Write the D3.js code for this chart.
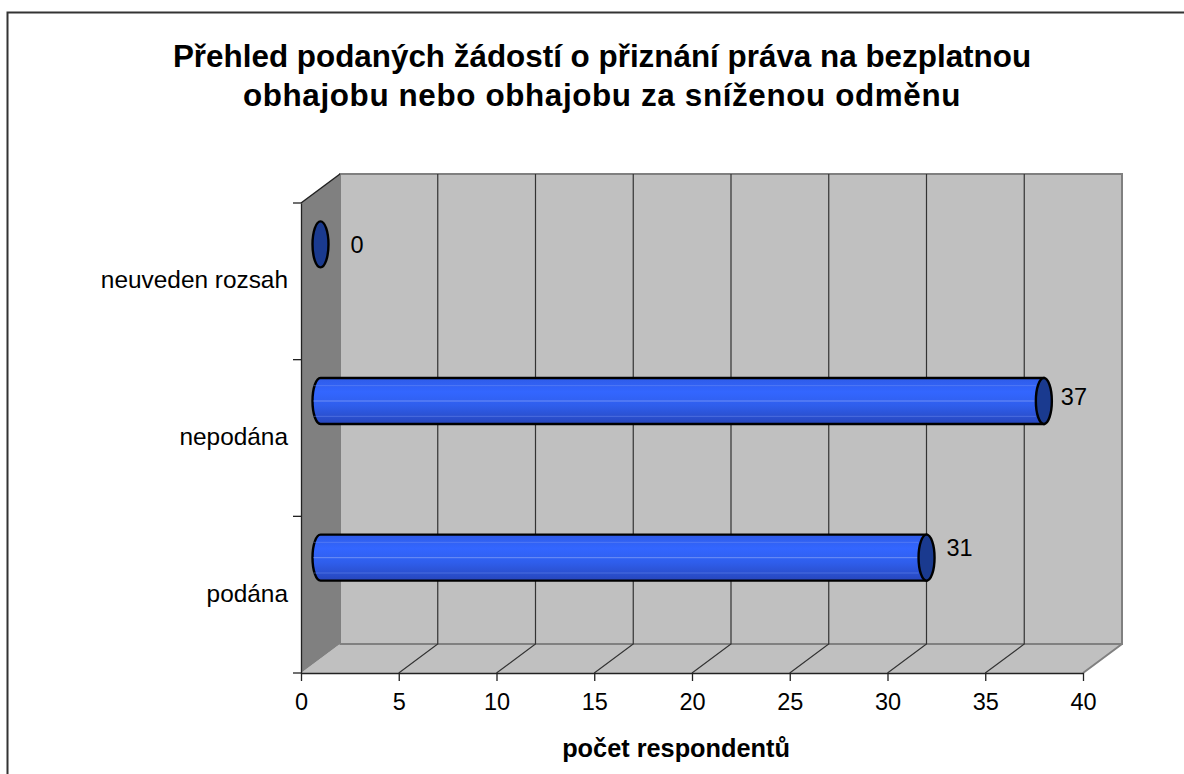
<!DOCTYPE html>
<html>
<head>
<meta charset="utf-8">
<script src="https://cdn.jsdelivr.net/npm/d3@7"></script>
<style>
    html, body { margin: 0; padding: 0; background: #fff; overflow: hidden; }
    text { font-family: "Liberation Sans", Arial, sans-serif; fill: #000; }
</style>
</head>
<body>
<div id="chart"></div>
<script>
var categories = ["podána", "nepodána", "neuveden rozsah"];
var values = [31, 37, 0];
var xTicks = [0, 5, 10, 15, 20, 25, 30, 35, 40];
var titleLines = ["Přehled podaných žádostí o přiznání práva na bezplatnou", "obhajobu nebo obhajobu za sníženou odměnu"];
var xTitle = "počet respondentů";

var width = 1184;
var height = 774;

var plot = { left: 301, right: 1083, top: 203, bottom: 673 };
var depth = { x: 39, y: -29 };

var svg = d3.select("#chart")
    .append("svg")
    .attr("width", width)
    .attr("height", height);

// chart frame, the right and bottom edges are cropped in the original
svg.append("path")
    .attr("d", "M7.5,774 L7.5,12.5 L1184,12.5")
    .attr("fill", "none")
    .attr("stroke", "#333")
    .attr("stroke-width", 2);

// the second title line is set a little wider in the original
var titleSpacing = [0, 0.63];
var title = svg.append("text")
    .attr("text-anchor", "middle")
    .attr("font-size", "31.4px")
    .attr("font-weight", "bold");
titleLines.forEach(function(line, i) {
    title.append("tspan")
        .attr("x", 602)
        .attr("y", 67 + i * 39)
        .attr("letter-spacing", titleSpacing[i])
        .text(line);
});

var xScale = d3.scaleLinear()
    .domain([0, 40])
    .range([plot.left, plot.right]);

var yScale = d3.scaleBand()
    .domain(categories)
    .range([plot.bottom, plot.top]);

var wall = "#c0c0c0";
var side = "#808080";

// back wall
svg.append("rect")
    .attr("x", plot.left + depth.x)
    .attr("y", plot.top + depth.y)
    .attr("width", plot.right - plot.left)
    .attr("height", plot.bottom - plot.top)
    .attr("fill", wall)
    .attr("stroke", side)
    .attr("stroke-width", 2);

// floor
svg.append("path")
    .attr("d", "M" + plot.left + "," + plot.bottom +
        " L" + plot.right + "," + plot.bottom +
        " L" + (plot.right + depth.x) + "," + (plot.bottom + depth.y) +
        " L" + (plot.left + depth.x) + "," + (plot.bottom + depth.y) + " Z")
    .attr("fill", wall);

svg.append("path")
    .attr("d", "M" + plot.right + "," + plot.bottom +
        " L" + (plot.right + depth.x) + "," + (plot.bottom + depth.y) +
        " M" + (plot.left + depth.x) + "," + (plot.bottom + depth.y) +
        " L" + (plot.right + depth.x) + "," + (plot.bottom + depth.y))
    .attr("stroke", side)
    .attr("stroke-width", 2)
    .attr("fill", "none");

// side wall
svg.append("path")
    .attr("d", "M" + plot.left + "," + plot.bottom +
        " L" + plot.left + "," + plot.top +
        " L" + (plot.left + depth.x) + "," + (plot.top + depth.y) +
        " L" + (plot.left + depth.x) + "," + (plot.bottom + depth.y) + " Z")
    .attr("fill", side);

svg.append("path")
    .attr("d", "M" + plot.left + "," + plot.top +
        " L" + (plot.left + depth.x) + "," + (plot.top + depth.y))
    .attr("stroke", "#222")
    .attr("stroke-width", 1.5);

// gridlines run over the floor and up the back wall
var inner = xTicks.slice(1, -1);
svg.selectAll(".grid")
    .data(inner)
    .enter()
    .append("path")
    .attr("class", "grid")
    .attr("d", function(d) {
        var x = xScale(d);
        return "M" + x + "," + plot.bottom +
            " L" + (x + depth.x) + "," + (plot.bottom + depth.y) +
            " L" + (x + depth.x) + "," + (plot.top + depth.y);
    })
    .attr("fill", "none")
    .attr("stroke", "#333")
    .attr("stroke-width", 1.2);

// axes
var xAxis = d3.axisBottom(xScale)
    .tickValues(xTicks)
    .tickSize(8)
    .tickSizeOuter(0)
    .tickPadding(12);

var xAxisG = svg.append("g")
    .attr("transform", "translate(0," + plot.bottom + ")")
    .call(xAxis);
xAxisG.selectAll("text")
    .attr("font-size", "23.5px")
    .style("font-family", '"Liberation Sans", Arial, sans-serif');
xAxisG.selectAll("line, path").attr("stroke", "#222").attr("stroke-width", 1.3);

var yAxis = d3.axisLeft(yScale)
    .tickSize(0)
    .tickPadding(13);

var yAxisG = svg.append("g")
    .attr("transform", "translate(" + plot.left + ",0)")
    .call(yAxis);
yAxisG.selectAll("text")
    .attr("font-size", "24.4px")
    .attr("dy", "0.28em")
    .style("font-family", '"Liberation Sans", Arial, sans-serif');
yAxisG.select(".domain").attr("stroke", "#222").attr("stroke-width", 1.3);

// category ticks sit on the band edges
var bandEdges = categories.map(function(c) { return yScale(c); }).concat([plot.bottom]);
svg.selectAll(".ytick")
    .data(bandEdges)
    .enter()
    .append("line")
    .attr("class", "ytick")
    .attr("x1", plot.left - 8)
    .attr("x2", plot.left)
    .attr("y1", function(d) { return d; })
    .attr("y2", function(d) { return d; })
    .attr("stroke", "#222")
    .attr("stroke-width", 1.3);

// cylinder bars
var defs = svg.append("defs");
var gradient = defs.append("linearGradient")
    .attr("id", "barFill")
    .attr("x1", 0).attr("x2", 0)
    .attr("y1", 0).attr("y2", 1);
[[0, "#2f5ce8"], [0.3, "#3366ff"], [0.6, "#2f5eec"], [1, "#2746bc"]].forEach(function(s) {
    gradient.append("stop").attr("offset", s[0]).attr("stop-color", s[1]);
});

var barHeight = 46;
var capRx = 8;
var barShiftX = depth.x / 2;
var barShiftY = -37;

// value labels do not sit at a fixed distance from their bars in the original
var labelShift = {
    "podána": [20, -2],
    "nepodána": [17, 4],
    "neuveden rozsah": [30, 9]
};

var bars = svg.selectAll(".bar")
    .data(categories.map(function(c, i) { return { category: c, value: values[i] }; }))
    .enter()
    .append("g")
    .attr("class", "bar")
    .attr("transform", function(d) {
        return "translate(" + barShiftX + "," + (yScale(d.category) + yScale.bandwidth() / 2 + barShiftY) + ")";
    });

bars.filter(function(d) { return d.value > 0; })
    .append("path")
    .attr("d", function(d) {
        var x0 = xScale(0), x1 = xScale(d.value), r = barHeight / 2;
        return "M" + x1 + "," + (-r) +
            " L" + x0 + "," + (-r) +
            " A" + capRx + "," + r + " 0 0 0 " + x0 + "," + r +
            " L" + x1 + "," + r + " Z";
    })
    .attr("fill", "url(#barFill)")
    .attr("stroke", "#000")
    .attr("stroke-width", 2.4);

// pale highlight stripes along the cylinder
bars.filter(function(d) { return d.value > 0; })
    .selectAll(".stripe")
    .data(function(d) {
        return [-barHeight / 3, 0, barHeight / 3].map(function(o) { return { offset: o, value: d.value }; });
    })
    .enter()
    .append("line")
    .attr("class", "stripe")
    .attr("x1", xScale(0) - capRx + 1)
    .attr("x2", function(d) { return xScale(d.value) - capRx; })
    .attr("y1", function(d) { return d.offset; })
    .attr("y2", function(d) { return d.offset; })
    .attr("stroke", "#7f9cf5")
    .attr("stroke-opacity", function(d) { return d.offset === 0 ? 0.8 : 0.4; })
    .attr("stroke-width", 1);

bars.append("ellipse")
    .attr("cx", function(d) { return xScale(d.value); })
    .attr("cy", 0)
    .attr("rx", capRx)
    .attr("ry", barHeight / 2)
    .attr("fill", "#1a3a8f")
    .attr("stroke", "#000")
    .attr("stroke-width", 2.4);

bars.append("text")
    .attr("x", function(d) { return xScale(d.value) + labelShift[d.category][0]; })
    .attr("y", function(d) { return labelShift[d.category][1]; })
    .attr("font-size", "23.5px")
    .text(function(d) { return d.value; });

svg.append("text")
    .attr("x", 676)
    .attr("y", 757)
    .attr("text-anchor", "middle")
    .attr("font-size", "25.3px")
    .attr("font-weight", "bold")
    .text(xTitle);
</script>
</body>
</html>
